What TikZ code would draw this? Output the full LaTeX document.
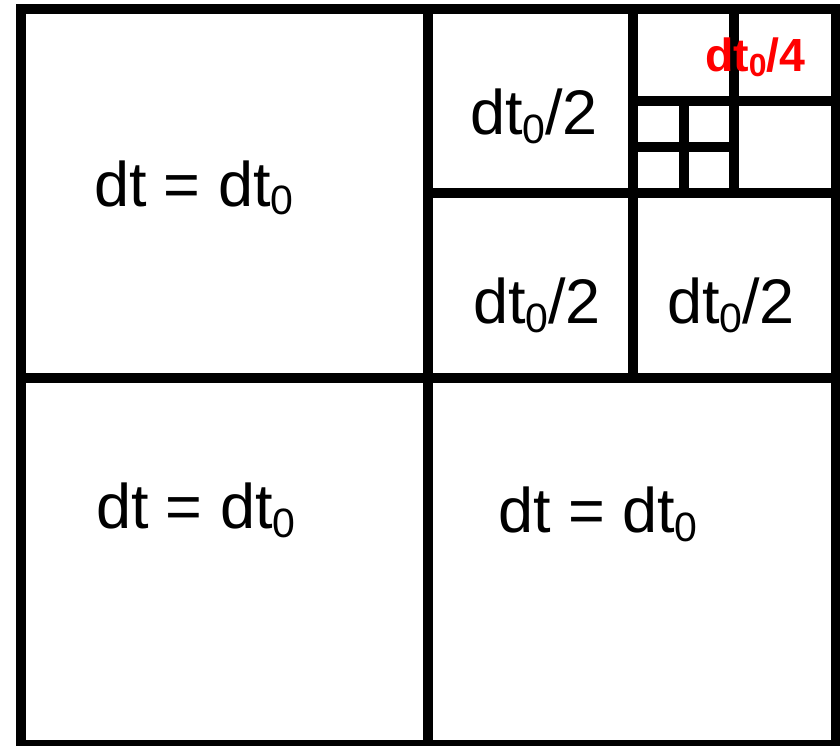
\documentclass[tikz,border=0pt]{standalone}
\usepackage{fontspec}
\setmainfont{Liberation Sans}
\newcommand\bigsub[1]{\raisebox{-9pt}{\fontsize{41}{41}\selectfont #1}}
\newcommand\redsub[1]{\raisebox{-5pt}{\fontsize{32}{32}\selectfont\bfseries #1}}
\begin{document}
\begin{tikzpicture}[x=1pt,y=-1pt,
  grid/.style={line width=10pt,black},
  lbl/.style={anchor=base west,inner sep=0pt,outer sep=0pt,font=\fontsize{63}{63}\selectfont},
  redlbl/.style={anchor=base west,inner sep=0pt,outer sep=0pt,text=red,font=\fontsize{46.5}{46.5}\selectfont\bfseries}]
\useasboundingbox (0,0) rectangle (840,746);
\fill[white] (0,0) rectangle (840,746);
% outer frame
\draw[grid] (21,9) rectangle (836,745);
% level 1
\draw[grid] (428,9) -- (428,745);
\draw[grid] (21,377.5) -- (836,377.5);
% level 2 (upper right quadrant)
\draw[grid] (633,9) -- (633,377.5);
\draw[grid] (428,193.5) -- (836,193.5);
% level 3
\draw[grid] (734,9) -- (734,193.5);
\draw[grid] (633,101) -- (836,101);
% level 4
\draw[grid] (683.5,101) -- (683.5,193.5);
\draw[grid] (633,147.5) -- (734,147.5);
% labels
\node[lbl] (tl) at (94,206) {dt = dt\bigsub{0}};
\node[lbl] (bl) at (96,528) {dt = dt\bigsub{0}};
\node[lbl] (br) at (498,532) {dt = dt\bigsub{0}};
\node[lbl] (h1) at (470,135) {dt\bigsub{0}/2};
\node[lbl] (h2) at (473,323) {dt\bigsub{0}/2};
\node[lbl] (h3) at (667,323) {dt\bigsub{0}/2};
\node[redlbl] (q1) at (705,72) {dt\redsub{0}/4};
\end{tikzpicture}
\end{document}
